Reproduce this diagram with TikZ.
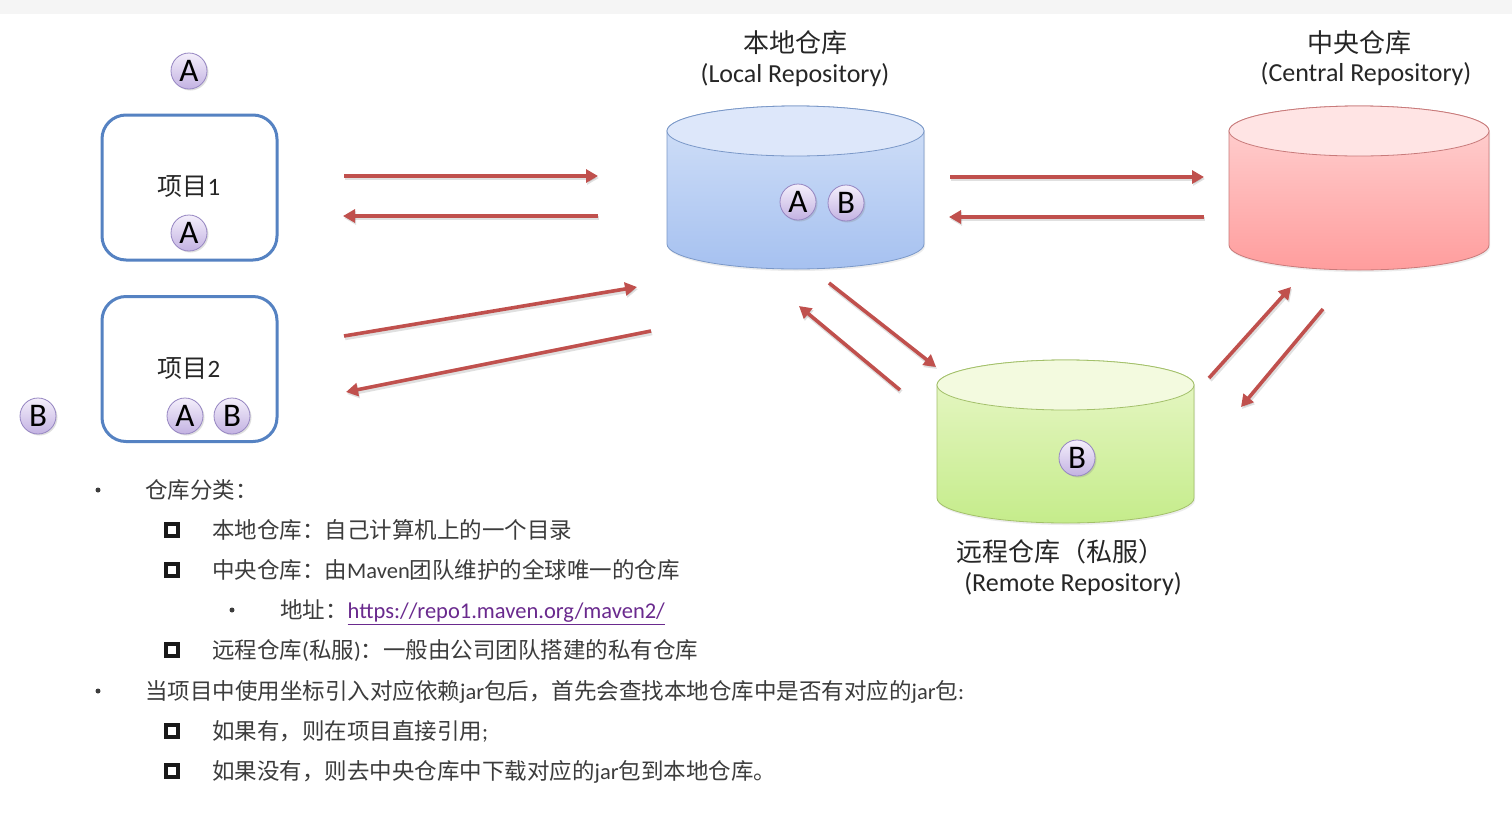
\documentclass[tikz,border=0pt]{standalone}
\usepackage{fontspec}
\setmainfont{Carlito}
\newfontfamily\cjk{Noto Sans CJK SC}
\usetikzlibrary{arrows.meta,shadows}
\definecolor{arrowred}{HTML}{C0504D}
\definecolor{boxblue}{HTML}{5582C2}
\definecolor{txtgray}{HTML}{3C3C3C}
\definecolor{urlpurple}{HTML}{6A2A8E}
\definecolor{balltop}{HTML}{F4EFFB}
\definecolor{ballbot}{HTML}{C3B2E2}
\definecolor{ballline}{HTML}{9686C2}
\definecolor{loctop}{HTML}{DDE7FA}
\definecolor{locb1}{HTML}{D3E1F8}
\definecolor{locb2}{HTML}{A6C1F0}
\definecolor{locline}{HTML}{7A98C8}
\definecolor{centop}{HTML}{FFE4E4}
\definecolor{cenb1}{HTML}{FFD4D4}
\definecolor{cenb2}{HTML}{FF9D9D}
\definecolor{cenline}{HTML}{C87A7A}
\definecolor{remtop}{HTML}{F3FADF}
\definecolor{remb1}{HTML}{E9F7C9}
\definecolor{remb2}{HTML}{C5EC8B}
\definecolor{remline}{HTML}{A3C06A}
\newcommand\drawrepo[8]{%
  \path[draw=#8, line width=0.8pt, top color=#6, bottom color=#7, drop shadow={opacity=0.15,shadow xshift=1pt,shadow yshift=-2pt}]
    (#1-#4,#2) -- (#1-#4,#3) arc[start angle=180,end angle=360,x radius=#4pt,y radius=25pt]
    -- (#1+#4,#2) arc[start angle=0,end angle=180,x radius=#4pt,y radius=25pt] -- cycle;
  \path[draw=#8, line width=0.8pt, fill=#5] (#1,#2) ellipse[x radius=#4pt, y radius=25pt];
}
\tikzset{
  projbox/.style={draw=boxblue, line width=3pt, rounded corners=24pt, fill=white,
    minimum width=175pt, minimum height=145pt},
  ball/.style={circle, minimum size=36pt, inner sep=0pt, draw=ballline, line width=0.8pt,
    top color=balltop, bottom color=ballbot, font=\fontsize{33pt}{34pt}\selectfont,
    drop shadow={opacity=0.25,shadow xshift=1.5pt,shadow yshift=-1.5pt}},
  conn/.style={draw=arrowred, line width=3.6pt, -{Triangle[length=12pt,width=13pt]},
    preaction={draw=black, opacity=0.12, line width=4.5pt, transform canvas={shift={(1pt,-2pt)}}}},
  head/.style={text=black!85, font=\fontsize{26pt}{28pt}\selectfont, inner sep=0pt},
  sub/.style={text=black!85, font=\fontsize{26pt}{28pt}\selectfont, inner sep=0pt},
  ptxt/.style={text=black!85, font=\fontsize{25pt}{28pt}\selectfont, inner sep=0pt},
  btxt/.style={text=txtgray, anchor=west, inner sep=0pt, font=\fontsize{22.5pt}{27pt}\selectfont,
    text height=0.88em, text depth=0.12em},
  sqb/.style={draw=black!90, line width=3.2pt, minimum size=12pt, inner sep=0pt},
  dotb/.style={circle, fill=txtgray, minimum size=5pt, inner sep=0pt},
}
\begin{document}
\begin{tikzpicture}[x=1pt,y=-1pt]
\useasboundingbox (0,0) rectangle (1512,833);
\fill[white] (0,0) rectangle (1512,833);
\fill[black!4] (0,0) rectangle (1512,14);

% repositories
\drawrepo{795.5}{131}{244}{128.5}{loctop}{locb1}{locb2}{locline}
\drawrepo{1359}{131}{245}{130}{centop}{cenb1}{cenb2}{cenline}
\drawrepo{1065.5}{385}{498}{128.5}{remtop}{remb1}{remb2}{remline}

% repository labels
\node[head] (lh1) at (795,43) {\cjk 本地仓库};
\node[sub] (lh2) at (795,75) {(Local Repository)};
\node[head] (ch1) at (1359,43) {\cjk 中央仓库};
\node[sub] (ch2) at (1366,74) {(Central Repository)};
\node[head] (rh1) at (1060,552) {\cjk 远程仓库（私服）};
\node[sub] (rh2) at (1073,584) {(Remote Repository)};

% projects
\node[projbox] (p1) at (189.5,187.5) {};
\node[projbox] (p2) at (189.5,369) {};
\node[ptxt] (p1t) at (189,187) {{\cjk 项目}1};
\node[ptxt] (p2t) at (189,369) {{\cjk 项目}2};

% artifacts
\node[ball] (a0) at (189,71) {A};
\node[ball] (a1) at (189,233) {A};
\node[ball] (b0) at (38,416) {B};
\node[ball] (a2) at (185,416) {A};
\node[ball] (b2) at (232,416) {B};
\node[ball] (la) at (798,202) {A};
\node[ball] (lb) at (846,203) {B};
\node[ball] (rb) at (1077,458) {B};

% connectors
\coordinate (c1s) at (344,176);  \coordinate (c1e) at (598,176);
\coordinate (c2s) at (598,216);  \coordinate (c2e) at (343,216);
\coordinate (c3s) at (344,336);  \coordinate (c3e) at (637,287);
\coordinate (c4s) at (651,331);  \coordinate (c4e) at (346,392);
\coordinate (c5s) at (950,177);  \coordinate (c5e) at (1204,177);
\coordinate (c6s) at (1204,217); \coordinate (c6e) at (949,217);
\coordinate (c7s) at (829,283);  \coordinate (c7e) at (936,367);
\coordinate (c8s) at (900,390);  \coordinate (c8e) at (799,306);
\coordinate (c9s) at (1209,378); \coordinate (c9e) at (1291,287);
\coordinate (c10s) at (1323,309); \coordinate (c10e) at (1241,407);
\foreach \i in {1,...,10} {\draw[conn] (c\i s) -- (c\i e);}

% bullet list
\node[dotb] (d1) at (98,490) {};
\node[btxt] (t1) at (145,495) {\cjk 仓库分类：};
\node[sqb] (s1) at (172,530) {};
\node[btxt] (t2) at (212,535) {\cjk 本地仓库：自己计算机上的一个目录};
\node[sqb] (s2) at (172,570) {};
\node[btxt] (t3) at (212,575) {{\cjk 中央仓库：由}Maven{\cjk 团队维护的全球唯一的仓库}};
\node[dotb] (d2) at (232,610) {};
\node[btxt] (t4) at (280,615) {{\cjk 地址：}\textcolor{urlpurple}{\underline{https://repo1.maven.org/maven2/}}};
\node[sqb] (s3) at (172,650) {};
\node[btxt] (t5) at (212,655) {{\cjk 远程仓库}({\cjk 私服}){\cjk ：一般由公司团队搭建的私有仓库}};
\node[dotb] (d3) at (98,691) {};
\node[btxt] (t6) at (145,696) {{\cjk 当项目中使用坐标引入对应依赖}jar{\cjk 包后，首先会查找本地仓库中是否有对应的}jar{\cjk 包}:};
\node[sqb] (s4) at (172,731) {};
\node[btxt] (t7) at (212,736) {{\cjk 如果有，则在项目直接引用};};
\node[sqb] (s5) at (172,771) {};
\node[btxt] (t8) at (212,776) {{\cjk 如果没有，则去中央仓库中下载对应的}jar{\cjk 包到本地仓库。}};
\end{tikzpicture}
\end{document}
